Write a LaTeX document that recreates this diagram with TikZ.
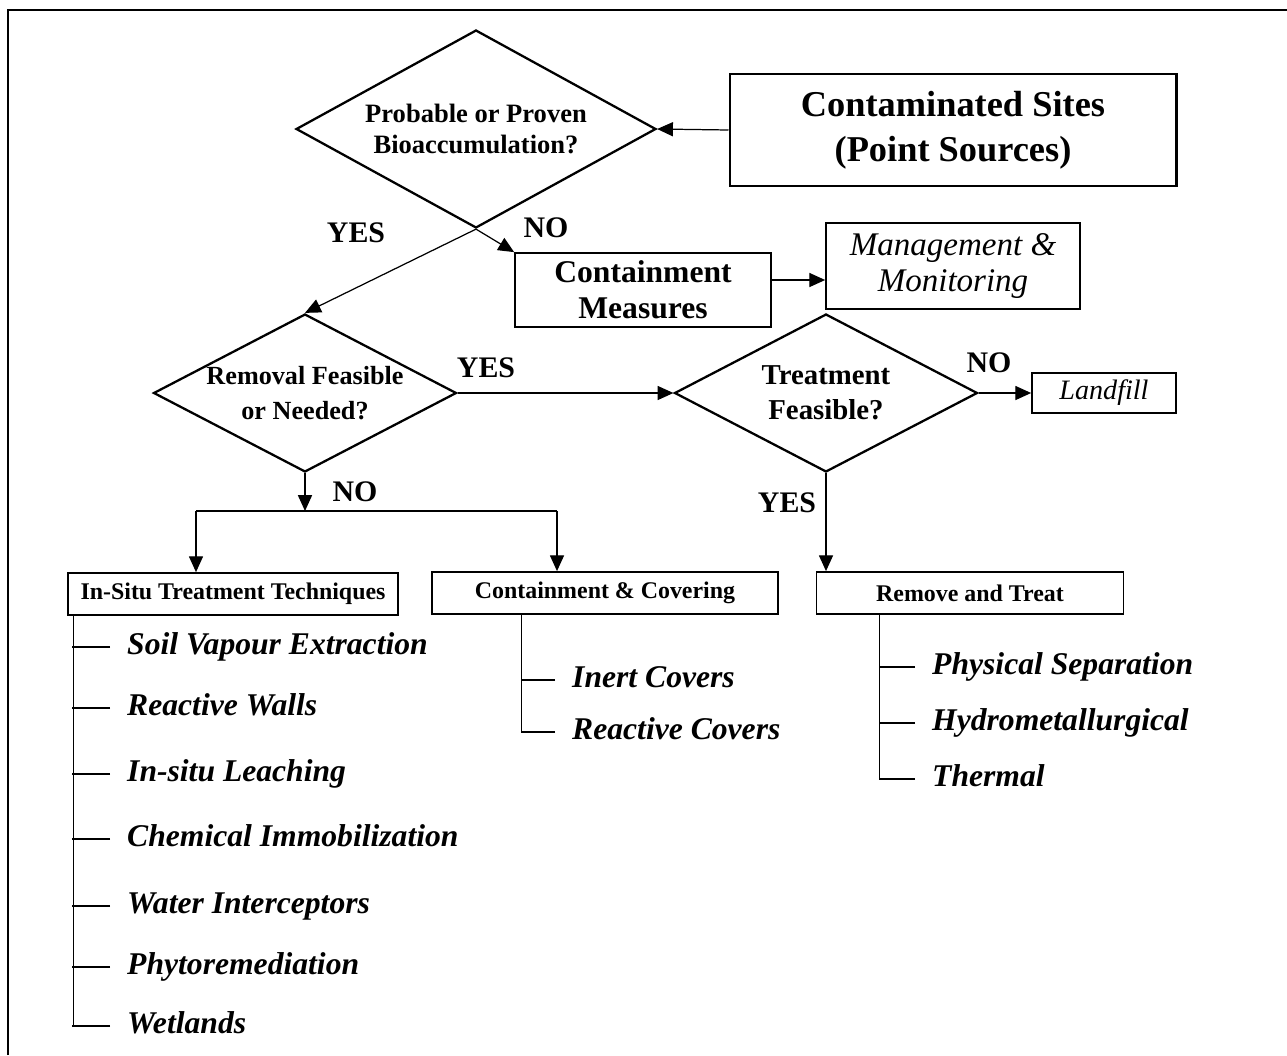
\documentclass[tikz,border=0pt]{standalone}
\usepackage{fontspec}
\setmainfont{Liberation Serif}
\usetikzlibrary{shapes.geometric,arrows.meta}

\begin{document}
\begin{tikzpicture}[x=0.02cm,y=-0.02cm,>={Triangle[length=9pt,width=8pt]},
    link/.style={line width=0.7pt},
    box/.style={draw,rectangle,line width=1pt,inner sep=0pt,align=center},
    group/.style={box,minimum height=0.84cm,font=\fontsize{13.6}{15}\selectfont\bfseries},
    decision/.style={draw,diamond,line width=1.3pt,inner sep=0pt,align=center,
        minimum width=6.06cm,minimum height=3.16cm,aspect=1.92},
    item/.style={anchor=west,inner xsep=9.6pt,text height=12pt,text depth=4pt,
        font=\fontsize{18}{20}\selectfont\bfseries\itshape},
    answer/.style={font=\fontsize{17}{20}\selectfont\bfseries}]
\useasboundingbox (0,0) rectangle (1287,1055);
\draw[line width=1.2pt] (8,1055) |- (1287,10);

\node[box,line width=1.2pt,minimum width=8.94cm,minimum height=2.24cm,
    font=\fontsize{20.7}{25.5}\selectfont\bfseries] (sites) at (953,130) {Contaminated Sites\\(Point Sources)};
\node[decision,minimum width=7.2cm,minimum height=3.96cm,aspect=1.82,
    font=\fontsize{15.1}{17.6}\selectfont\bfseries] (bio) at (476,129) {Probable or Proven\\Bioaccumulation?};
\node[box,minimum width=5.12cm,minimum height=1.48cm,
    font=\fontsize{18}{20.4}\selectfont\bfseries] (cm) at (643,290) {Containment\\Measures};
\node[box,minimum width=5.08cm,minimum height=1.72cm,
    font=\fontsize{18.8}{21}\selectfont\itshape] (mgmt) at (953,266) {Management \&\\Monitoring};
\node[decision,font=\fontsize{14.9}{20}\selectfont\bfseries] (rem) at (305,393) {Removal Feasible\\or Needed?};
\node[decision,font=\fontsize{16.4}{20}\selectfont\bfseries] (treat) at (826,393) {Treatment\\Feasible?};
\node[box,minimum width=2.88cm,minimum height=0.8cm,
    font=\fontsize{16}{18}\selectfont\itshape] (landfill) at (1104,393) {Landfill};
\node[group,minimum width=6.6cm] (insitu) at (233,594) {In-Situ Treatment Techniques};
\node[group,minimum width=6.92cm] (cc) at (605,593) {Containment \& Covering};
\node[group,minimum width=6.14cm] (rt) at (970,593) {Remove and Treat};

\node[answer] (yes1) at (356,233) {YES};
\node[answer] (no1) at (546,228) {NO};
\node[answer] (yes2) at (486,368) {YES};
\node[answer] (no2) at (989,363) {NO};
\node[answer] (no3) at (355,492) {NO};
\node[answer] (yes3) at (787,503) {YES};

\draw[->,link] (sites.west) -- (bio.east);
\draw[->,link] (bio.south) -- (cm.north west);
\draw[->,link] (bio.south) -- (rem.north);
\draw[->,link] (cm.east |- 0,280) -- (mgmt.west |- 0,280);
\draw[->,link] (rem.east) -- (treat.west);
\draw[->,link] (treat.east) -- (landfill.west);
\coordinate (jl) at (196,511);
\coordinate (jr) at (557,511);
\draw[->,link] (rem.south) -- (rem.south |- jl);
\draw[link] (jl) -- (jr);
\draw[->,link] (jl) -- (jl |- insitu.north);
\draw[->,link] (jr) -- (jr |- cc.north);
\draw[->,link] (treat.south) -- (treat.south |- rt.north);

% in-situ list
\foreach \y/\t [count=\i] in {647/Soil Vapour Extraction,708/Reactive Walls,774/In-situ Leaching,
    839/Chemical Immobilization,906/Water Interceptors,967/Phytoremediation,1026/Wetlands}
  {\node[item] (is\i) at (110,\y) {\t};
   \draw[link] (is\i.west) -- ++(-38,0);}
\draw[link] (insitu.south west) ++(6,0) |- (is7.west);

% covering list
\foreach \y/\t [count=\i] in {680/Inert Covers,732/Reactive Covers}
  {\node[item] (cc\i) at (555,\y) {\t};
   \draw[link] (cc\i.west) -- ++(-34,0);}
\draw[link] (cc.south west) ++(90,0) |- (cc2.west);

% treatment list
\foreach \y/\t [count=\i] in {667/Physical Separation,723/Hydrometallurgical,779/Thermal}
  {\node[item] (rt\i) at (915,\y) {\t};
   \draw[link] (rt\i.west) -- ++(-35,0);}
\draw[link] (rt.south west) ++(64,0) |- (rt3.west);
\end{tikzpicture}
\end{document}
